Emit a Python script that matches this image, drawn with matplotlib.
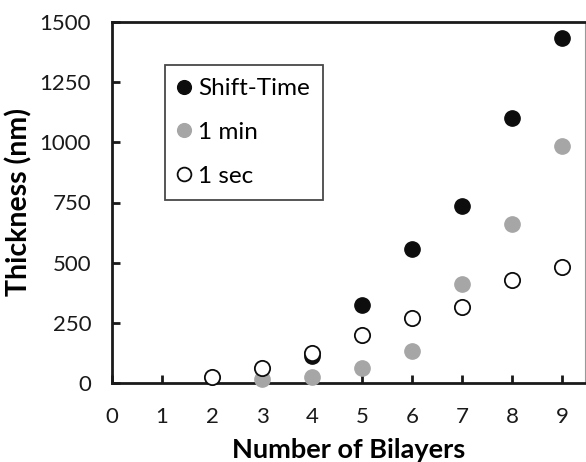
import matplotlib
matplotlib.use("Agg")
import matplotlib.pyplot as plt

plt.rcParams['font.family'] = ['Lato', 'DejaVu Sans']

shift_x = [4, 5, 6, 7, 8, 9]
shift_y = [112, 325, 555, 735, 1100, 1432]
min_x = [3, 4, 5, 6, 7, 8, 9]
min_y = [18, 26, 61, 134, 411, 659, 985]
sec_x = [2, 3, 4, 5, 6, 7, 8, 9]
sec_y = [26, 64, 126, 198, 269, 314, 428, 483]
xticks = list(range(0, 10))
yticks = [0, 250, 500, 750, 1000, 1250, 1500]

W, H = 586, 462
fig = plt.figure(figsize=(W / 100, H / 100), dpi=100)
ax = fig.add_axes([112 / W, (H - 383) / H, (585 - 112) / W, 361 / H])

ms = 11
ax.plot(shift_x, shift_y, 'o', ms=ms, mfc='#0d0d0d', mec='#0d0d0d', label='Shift-Time', clip_on=False, zorder=3)
ax.plot(min_x, min_y, 'o', ms=ms, mfc='#a6a6a6', mec='#a6a6a6', label='1 min', clip_on=False, zorder=3)
ax.plot(sec_x, sec_y, 'o', ms=ms, mfc='white', mec='#0d0d0d', mew=1.3, label='1 sec', clip_on=False, zorder=4)

ax.set_xlim(0, (585 - 112) / 50.0)
ax.set_ylim(0, 1500)
ax.set_xticks(xticks)
ax.set_yticks(yticks)
ax.tick_params(direction='in', length=6, width=2, labelsize=16, colors='#1a1a1a')
ax.tick_params(axis='x', pad=17)
ax.tick_params(axis='y', pad=15)
for s in ['left', 'bottom', 'top']:
    ax.spines[s].set_linewidth(2)
    ax.spines[s].set_color('#1a1a1a')
ax.spines['right'].set_linewidth(0.8)
ax.spines['right'].set_color('#999999')

ax.set_xlabel('Number of Bilayers', fontsize=19.5, fontweight='bold', labelpad=8)
ax.set_ylabel('Thickness (nm)', fontsize=20.5, fontweight='bold', labelpad=5)

leg = ax.legend(loc='upper left', bbox_to_anchor=(165 / W, 1 - 65 / H), bbox_transform=fig.transFigure,
                borderaxespad=0, fontsize=17.5, frameon=True, fancybox=False, edgecolor='#1a1a1a',
                handletextpad=0.3, handlelength=0.5, labelspacing=0.93, borderpad=0.55, markerscale=0.9)
leg.get_frame().set_linewidth(1.3)

fig.savefig('out.png', dpi=100)
